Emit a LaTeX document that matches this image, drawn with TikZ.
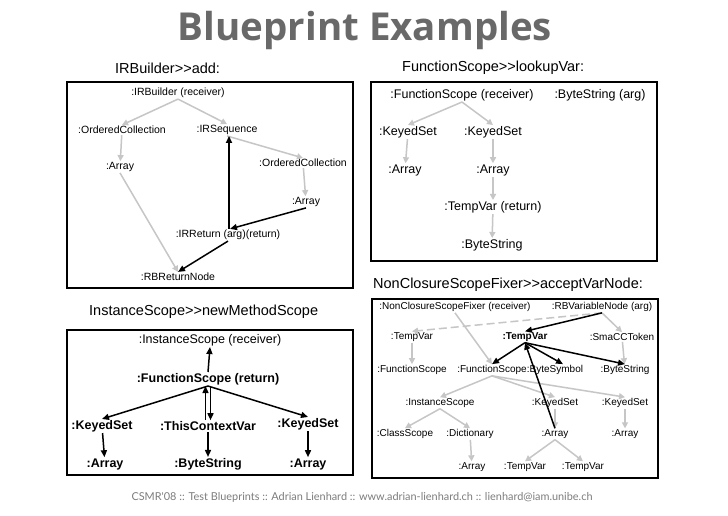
\documentclass[tikz,border=0pt]{standalone}
\usepackage{fontspec}
\setmainfont{Liberation Sans}
\newfontfamily\titlefont{Open Sans}
\newfontfamily\footfont{Lato}
\usetikzlibrary{arrows.meta}
\definecolor{lg}{RGB}{198,198,198}
\definecolor{titlegray}{RGB}{105,105,105}
\definecolor{footgray}{RGB}{125,125,125}
\begin{document}
\begin{tikzpicture}[x=1pt,y=-1pt,
  ga/.style={draw=lg, line width=1.5pt, -{Triangle[length=6pt,width=6pt]}},
  ka/.style={draw=black, line width=1.5pt, -{Triangle[length=7pt,width=6pt]}},
  box/.style={draw=black, line width=1.8pt},
  sa/.style={font=\fontsize{10.5}{12}\selectfont, inner sep=1pt},
  sb/.style={font=\fontsize{12.5}{14}\selectfont, inner sep=1pt},
  sc/.style={font=\fontsize{10}{12}\selectfont, inner sep=1pt},
  scb/.style={font=\fontsize{10}{12}\selectfont\bfseries, inner sep=1pt},
  sd/.style={font=\fontsize{12.5}{14}\selectfont, inner sep=1pt},
  sdb/.style={font=\fontsize{12.5}{14}\selectfont\bfseries, inner sep=1pt},
  captext/.style={font=\fontsize{14.5}{16}\selectfont, inner sep=0pt, anchor=west},
]
\useasboundingbox[fill=white] (0,0) rectangle (728,515);

% title and footer
\node[font=\titlefont\bfseries\fontsize{38.5}{42}\selectfont, text=titlegray, inner sep=0pt] (title) at (365,30) {Blueprint Examples};
\node[font=\footfont\fontsize{10.9}{12}\selectfont, text=footgray, inner sep=0pt] (foot) at (362,497) {CSMR'08 :: Test Blueprints :: Adrian Lienhard :: www.adrian-lienhard.ch :: lienhard@iam.unibe.ch};

% captions
\node[captext] (cap1) at (115,68) {IRBuilder>{}>add:};
\node[captext] (cap2) at (402,68) {FunctionScope>{}>lookupVar:};
\node[captext] (cap3) at (373,285) {NonClosureScopeFixer>{}>acceptVarNode:};
\node[captext] (cap4) at (89,312) {InstanceScope>{}>newMethodScope};

% boxes
\draw[box] (67,82) rectangle (353,288);
\draw[box] (371,82) rectangle (657,261);
\draw[box] (372,299) rectangle (658,478);
\draw[box] (67,330) rectangle (353,475);

% ---------- box 1 : IRBuilder>>add:
\node[sa] (irb) at (178,93) {:IRBuilder (receiver)};
\node[sa] (oc1) at (122,130) {:OrderedCollection};
\node[sa] (irs) at (227,130) {:IRSequence};
\node[sa] (arr1) at (120,167) {:Array};
\node[sa] (oc2) at (303,163) {:OrderedCollection};
\node[sa] (arr2) at (306,202) {:Array};
\node[sa] (irr) at (228,235) {:IRReturn (arg)(return)};
\node[sa] (rbr) at (178,277) {:RBReturnNode};

\draw[ga] (irb.south) -- (oc1.north);
\draw[ga] (irb.south) -- (irs.north);
\draw[ga] (oc1) -- (arr1);
\draw[ga] (arr1.south) -- (rbr.north);
\draw[ga] (irs.south) -- (oc2.north);
\draw[ga] (oc2) -- (arr2);
\draw[ka, line width=2.2pt] ([xshift=1pt]irr.north) -- ([xshift=2pt]irs.south);
\draw[ka] (arr2.south) -- ([xshift=2pt]irr.north);
\draw[ka] (irr.south) -- (rbr.north);

% ---------- box 2 : FunctionScope>>lookupVar:
\node[sb] (fs) at (462,95) {:FunctionScope (receiver)};
\node[sb] (bsa) at (600,95) {:ByteString (arg)};
\node[sb] (ks1) at (408,132) {:KeyedSet};
\node[sb] (ks2) at (493,132) {:KeyedSet};
\node[sb] (a1) at (405,170) {:Array};
\node[sb] (a2) at (493,170) {:Array};
\node[sb] (tvr) at (493,207) {:TempVar (return)};
\node[sb] (bs2) at (492,245) {:ByteString};

\draw[ga] (fs.south) -- (ks1.north);
\draw[ga] (fs.south) -- (ks2.north);
\draw[ga] (ks1) -- (a1);
\draw[ga] (ks2) -- (a2);
\draw[ga] (a2) -- (tvr);
\draw[ga] (tvr) -- (bs2);

% ---------- box 3 : NonClosureScopeFixer>>acceptVarNode:
\node[sc] (ncsf) at (455,307) {:NonClosureScopeFixer (receiver)};
\node[sc] (rbv) at (602,307) {:RBVariableNode (arg)};
\node[sc] (tvl) at (412,337) {:TempVar};
\node[scb] (tvb) at (525,337) {:TempVar};
\node[sc] (sma) at (622,337) {:SmaCCToken};
\node[sc] (fsl) at (412,370) {:FunctionScope};
\node[sc] (fsm) at (492,370) {:FunctionScope};
\node[sc] (bsym) at (555,370) {:ByteSymbol};
\node[sc] (bstr) at (625,370) {:ByteString};
\node[sc] (inst) at (440,403) {:InstanceScope};
\node[sc] (ksm) at (555,403) {:KeyedSet};
\node[sc] (ksr) at (625,403) {:KeyedSet};
\node[sc] (cls) at (405,434) {:ClassScope};
\node[sc] (dict) at (470,434) {:Dictionary};
\node[sc] (arrm) at (555,434) {:Array};
\node[sc] (arrr) at (625,434) {:Array};
\node[sc] (arrb) at (472,467) {:Array};
\node[sc] (tv1) at (525,467) {:TempVar};
\node[sc] (tv2) at (583,467) {:TempVar};

\draw[ga, dash pattern=on 8pt off 4pt] (rbv.south) -- (tvl.north);
\draw[ga] (ncsf.south) -- (fsm.north);
\draw[ga] (rbv.south) -- (sma.north);
\draw[ga] (tvl) -- (fsl);
\draw[ga] (sma) -- (bstr);
\draw[ga] (fsm.south) -- (inst.north);
\draw[ga] (fsm.south) -- (ksm.north);
\draw[ga] (fsm.south) -- (ksr.north);
\draw[ga] (inst.south) -- (cls.north);
\draw[ga] (inst.south) -- (dict.north);
\draw[ga] (dict) -- (arrb);
\draw[ga] (ksm) -- (arrm);
\draw[ga] (arrm.south) -- (tv1.north);
\draw[ga] (arrm.south) -- (tv2.north);
\draw[ga] (ksr) -- (arrr);
\draw[ka] (rbv.south) -- (tvb.north);
\draw[ka] (tvb.south) -- (fsm.north);
\draw[ka] (tvb.south) -- ([xshift=8pt]bsym.north);
\draw[ka] (tvb.south) -- (bstr.north);
\draw[ka] (arrm.north) -- (tvb.south);

% ---------- box 4 : InstanceScope>>newMethodScope
\node[sd] (inst4) at (210,340) {:InstanceScope (receiver)};
\node[sdb] (fs4) at (208,379) {:FunctionScope (return)};
\node[sdb] (ks4l) at (102,426) {:KeyedSet};
\node[sdb] (tcv) at (208,426) {:ThisContextVar};
\node[sdb] (ks4r) at (308,424) {:KeyedSet};
\node[sdb] (a4l) at (105,464) {:Array};
\node[sdb] (bs4) at (208,464) {:ByteString};
\node[sdb] (a4r) at (308,464) {:Array};

\draw[ka] (fs4.north) -- (inst4.south);
\draw[ka] (fs4.south) -- (ks4l.north);
\draw[ka] (fs4.south) -- (ks4r.north);
\draw[ka] ([xshift=-2.5pt]tcv.north) -- ([xshift=-2.5pt]fs4.south);
\draw[ka] ([xshift=2.5pt]fs4.south) -- ([xshift=2.5pt]tcv.north);
\draw[ka] (ks4l) -- (a4l);
\draw[ka] (tcv) -- (bs4);
\draw[ka] (ks4r) -- (a4r);
\end{tikzpicture}
\end{document}
